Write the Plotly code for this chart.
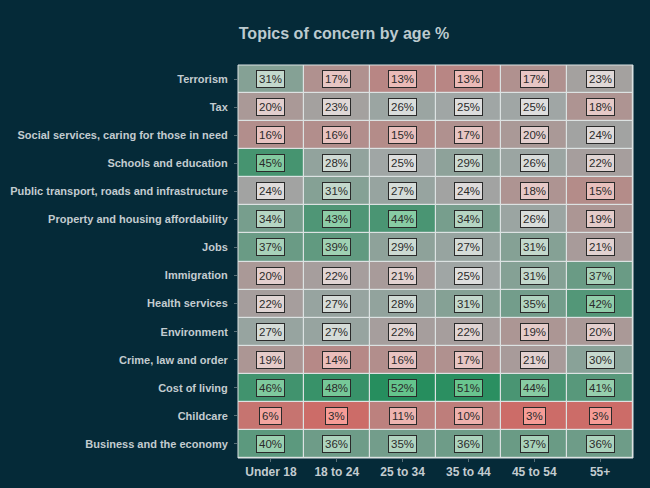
import plotly.graph_objects as go

ages = ["Under 18", "18 to 24", "25 to 34", "35 to 44", "45 to 54", "55+"]
topics = [
    "Terrorism", "Tax", "Social services, caring for those in need",
    "Schools and education", "Public transport, roads and infrastructure",
    "Property and housing affordability", "Jobs", "Immigration",
    "Health services", "Environment", "Crime, law and order",
    "Cost of living", "Childcare", "Business and the economy",
]
terrorism = [31, 17, 13, 13, 17, 23]
tax = [20, 23, 26, 25, 25, 18]
social = [16, 16, 15, 17, 20, 24]
schools = [45, 28, 25, 29, 26, 22]
transport = [24, 31, 27, 24, 18, 15]
property = [34, 43, 44, 34, 26, 19]
jobs = [37, 39, 29, 27, 31, 21]
immigration = [20, 22, 21, 25, 31, 37]
health = [22, 27, 28, 31, 35, 42]
environment = [27, 27, 22, 22, 19, 20]
crime = [19, 14, 16, 17, 21, 30]
cost_of_living = [46, 48, 52, 51, 44, 41]
childcare = [6, 3, 11, 10, 3, 3]
business = [40, 36, 35, 36, 37, 36]

rows = [terrorism, tax, social, schools, transport, property, jobs,
        immigration, health, environment, crime, cost_of_living,
        childcare, business]

# display order: Terrorism at top
y_cats = topics[::-1]
z = rows[::-1]

zmin, zmax, zmid = 3, 52, 25
pmid = (zmid - zmin) / (zmax - zmin)

tile_low, tile_mid, tile_high = (204, 108, 104), (160, 166, 165), (38, 142, 94)
lab_low, lab_mid, lab_high = (246, 156, 150), (222, 222, 222), (100, 196, 140)


def interp(v, low, mid, high):
    if v <= zmid:
        t = (v - zmin) / (zmid - zmin)
        a, b = low, mid
    else:
        t = (v - zmid) / (zmax - zmid)
        a, b = mid, high
    t = max(0, min(1, t))
    c = [round(a[i] + (b[i] - a[i]) * t) for i in range(3)]
    return "rgb(%d,%d,%d)" % tuple(c)


def rgb(c):
    return "rgb(%d,%d,%d)" % c


fig = go.Figure()
fig.add_trace(go.Heatmap(
    x=ages, y=y_cats, z=z,
    zmin=zmin, zmax=zmax,
    colorscale=[[0, rgb(tile_low)], [pmid, rgb(tile_mid)], [1, rgb(tile_high)]],
    showscale=False, xgap=1.2, ygap=1.2, hoverinfo="skip",
))

annotations = []
for yi, cat in enumerate(y_cats):
    for xi, age in enumerate(ages):
        v = z[yi][xi]
        annotations.append(dict(
            x=age, y=cat, xref="x", yref="y", text="%d%%" % v,
            showarrow=False,
            font=dict(family="Liberation Sans, Arial", size=11.5, color="#2a2a2a"),
            bgcolor=interp(v, lab_low, lab_mid, lab_high),
            bordercolor="#2a2a2a", borderwidth=1, borderpad=2,
        ))

bg = "#052a38"
fig.update_layout(
    width=650, height=488,
    margin=dict(l=238, r=17, t=65, b=30, autoexpand=False),
    paper_bgcolor=bg, plot_bgcolor="#dce2e2",
    annotations=annotations,
    title=dict(
        text="<b>Topics of concern by age %</b>",
        x=344 / 650, xref="container", xanchor="center",
        y=1 - 33 / 488, yref="container", yanchor="middle",
        font=dict(family="Liberation Sans, Arial", size=16, color="#bccacf"),
    ),
    xaxis=dict(
        tickfont=dict(family="Liberation Sans, Arial", size=12, color="#c3ccd0"),
        ticks="outside", ticklen=3, tickcolor="#5a7078",
        showgrid=False, zeroline=False, fixedrange=True, automargin=False,
        tickprefix="<b>", ticksuffix="</b>",
    ),
    yaxis=dict(
        tickfont=dict(family="Liberation Sans, Arial", size=11, color="#c3ccd0"),
        ticks="outside", ticklen=3, tickcolor="#5a7078",
        showgrid=False, zeroline=False, fixedrange=True, automargin=False,
        tickprefix="<b>", ticksuffix="</b>", ticklabelstandoff=4,
    ),
    shapes=[dict(type="rect", xref="paper", yref="paper", x0=0, x1=1, y0=0, y1=1,
                 line=dict(color="#dce2e2", width=1), fillcolor="rgba(0,0,0,0)")],
)

fig.write_html(
    "out.html",
    config={"displayModeBar": False},
    post_script="document.body.style.margin='0';document.body.style.background='%s';" % bg,
)
